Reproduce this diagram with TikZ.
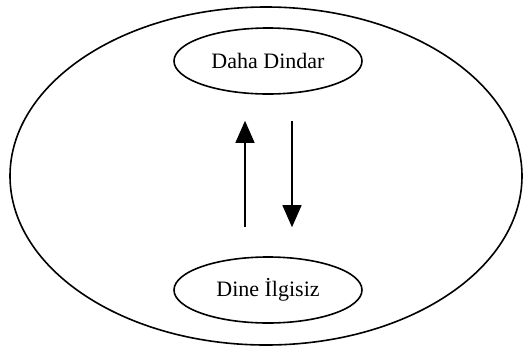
\documentclass[tikz,border=0pt]{standalone}
\usepackage{fontspec}
\setmainfont{Liberation Serif}
\usetikzlibrary{arrows.meta}
\usetikzlibrary{shapes.geometric}
\usetikzlibrary{positioning}
\tikzset{state/.style = {draw, ellipse, line width = 0.8pt, minimum width = 94pt, minimum height = 33pt, inner sep = 0, font = \fontsize{11}{13}\selectfont}}
\tikzset{flow/.style = {line width = 0.6pt, -{Triangle[length = 11pt, width = 9.5pt]}}}

\begin{document}
\begin{tikzpicture}[x = 0.5pt, y = -0.5pt]
    \useasboundingbox (0, 0) rectangle (525, 349);
    \draw [line width = 0.8pt] (266, 176) ellipse (128pt and 84.5pt);

    \node [state] (dindar) at (268, 61) {Daha Dindar};
    \node [state] (ilgisiz) at (268, 290) {Dine İlgisiz};

    \draw [flow, shorten <= 14.5pt, shorten >= 13pt] ([xshift = -11.5pt] ilgisiz.north) -- ([xshift = -11.5pt] dindar.south);
    \draw [flow, shorten <= 13pt, shorten >= 14.5pt] ([xshift = 12pt] dindar.south) -- ([xshift = 12pt] ilgisiz.north);
  \end{tikzpicture}
\end{document}
